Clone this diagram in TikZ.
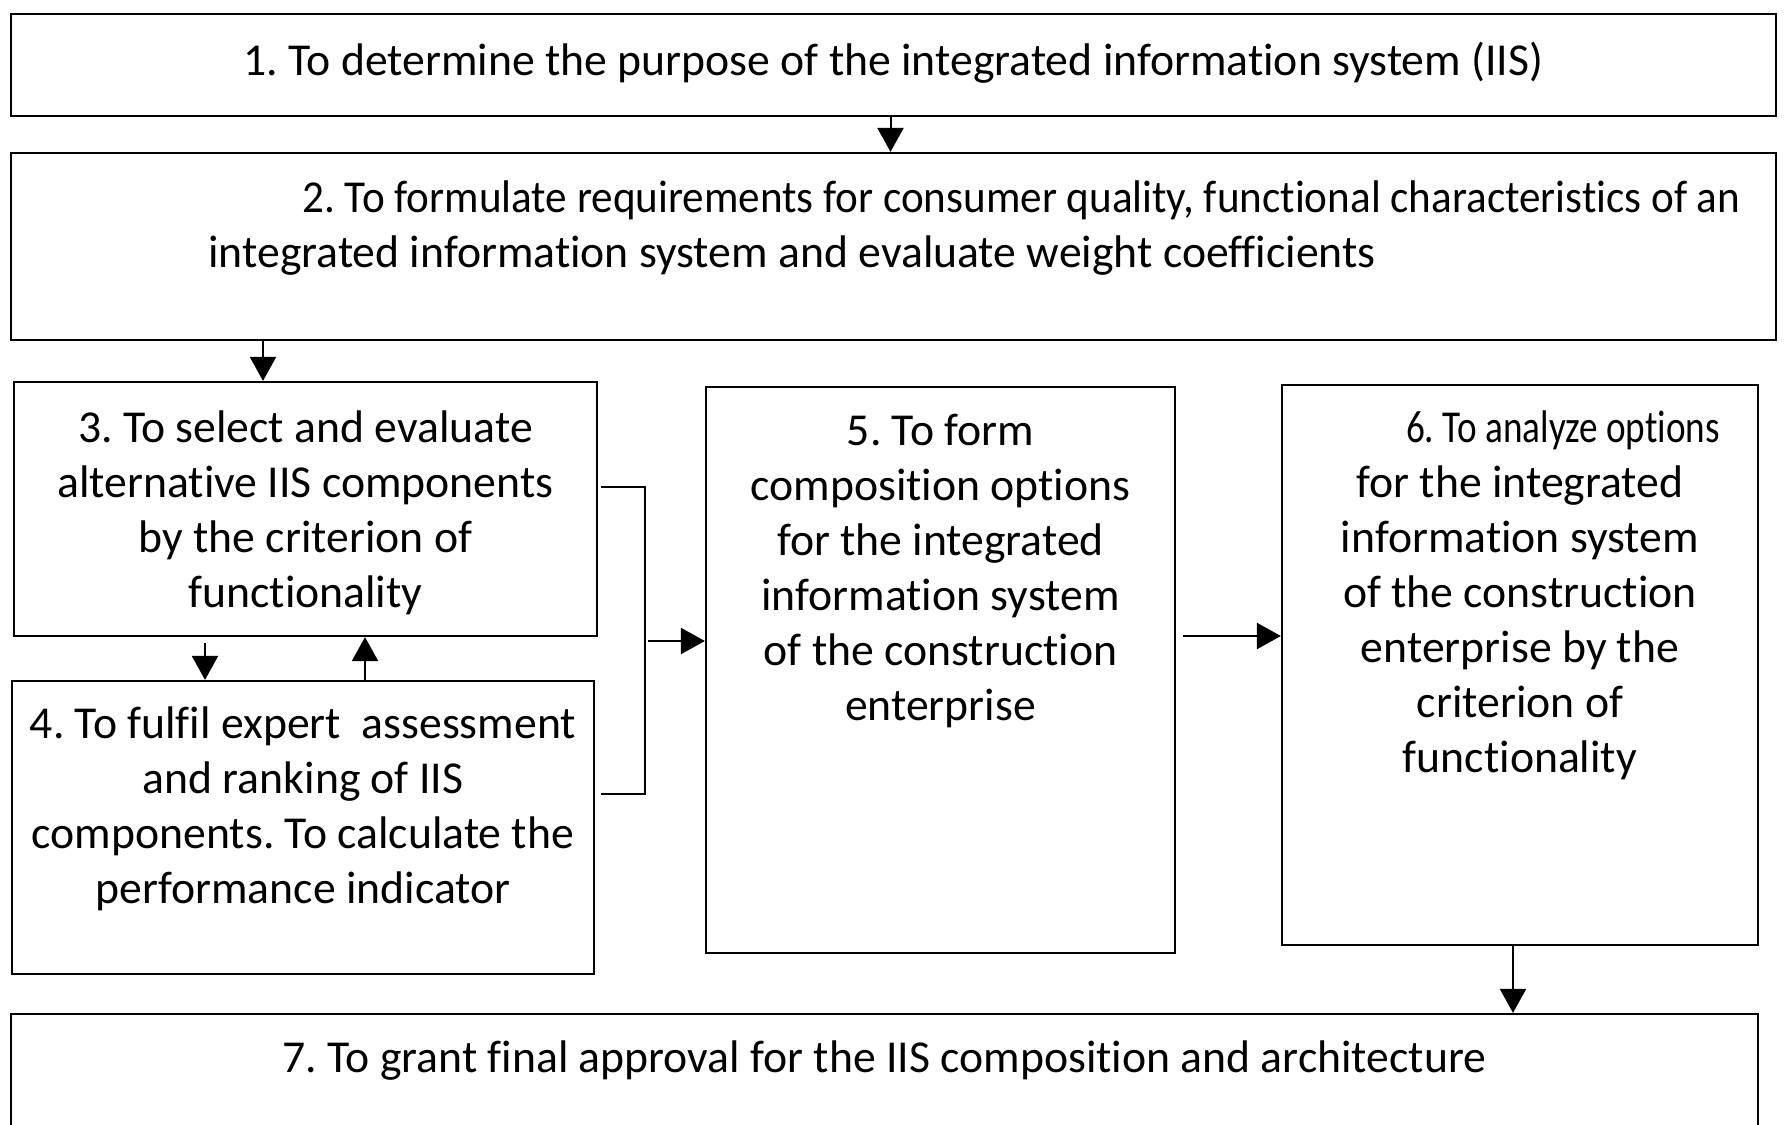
\documentclass[tikz,border=0pt]{standalone}
\usepackage{fontspec}
\setmainfont{Carlito}[Ligatures=NoCommon]
\usepackage{graphicx}
\usetikzlibrary{arrows.meta}
\frenchspacing
\tikzset{
  box/.style={draw, line width=1.1pt, inner sep=0pt, rectangle},
  txt/.style={inner sep=0pt, align=center, anchor=north, font=\fontsize{22.85}{27.5}\selectfont\frenchspacing},
  conn/.style={line width=1pt},
  arr/.style={line width=1pt, -{Triangle[length=12pt,width=13pt]}}
}
\begin{document}
\begin{tikzpicture}[x=0.5pt,y=-0.5pt]
\useasboundingbox (0,0) rectangle (1784,1125);
\clip (0,0) rectangle (1784,1125);
\fill[white] (0,0) rectangle (1784,1125);
% boxes
\node[box, minimum width=882.5pt, minimum height=51pt] (b1) at (893.5,65) {};
\node[box, minimum width=882.5pt, minimum height=93.5pt] (b2) at (893.5,246.5) {};
\node[box, minimum width=291.5pt, minimum height=127pt] (b3) at (305.5,509) {};
\node[box, minimum width=291pt, minimum height=146.5pt] (b4) at (303,827.5) {};
\node[box, minimum width=234.5pt, minimum height=283pt] (b5) at (940.5,670) {};
\node[box, minimum width=238pt, minimum height=280pt] (b6) at (1520,665) {};
\node[box, minimum width=873.5pt, minimum height=66pt] (b7) at (884.5,1080) {};
% texts
\node[txt] (t1) at (893.5,36.5) {\strut 1. To determine the purpose of the integrated information system (IIS)};
\node[txt, anchor=north west, align=left] (t2) at (208,173.5) {\strut\hspace*{47pt}\resizebox{719pt}{\height}{2. To formulate requirements for consumer quality, functional characteristics of an}\\integrated information system and evaluate weight coefficients};
\node[txt] (t3) at (305.5,403.5) {\strut 3. To select and evaluate\\alternative IIS components\\by the criterion of\\functionality};
\node[txt] (t4) at (303,699.5) {\strut 4. To fulfil expert\ \ assessment\\and ranking of IIS\\components. To calculate the\\performance indicator};
\node[txt] (t5) at (940.5,406.5) {\strut 5. To form\\composition options\\for the integrated\\information system\\of the construction\\enterprise};
\node[txt] (t6) at (1520,403.5) {\strut\hspace*{43pt}\resizebox{157pt}{\height}{6. To analyze options}\\for the integrated\\information system\\of the construction\\enterprise by the\\criterion of\\functionality};
\node[txt] (t7) at (884.5,1033.5) {\strut 7. To grant final approval for the IIS composition and architecture};
% connectors
\draw[arr] ([xshift=-1.5pt]b1.south) -- ([xshift=-1.5pt]b1.south |- b2.north);
\draw[arr] ([xshift=-21.25pt]b3.north |- b2.south) -- ([xshift=-21.25pt]b3.north);
\draw[arr, shorten <=3pt] ([xshift=-49pt]b4.north |- b3.south) -- ([xshift=-49pt]b4.north);
\draw[arr] ([xshift=31pt]b4.north) -- ([xshift=31pt]b4.north |- b3.south);
\coordinate (j) at (645,641);
\draw[conn] ([shift={(1.5pt,11pt)}]b3.east) -| (j) |- ([shift={(3pt,17pt)}]b4.east);
\draw[arr, shorten <=1.5pt] (j) -- (j -| b5.west);
\draw[arr, shorten <=3.5pt] ([yshift=17pt]b5.east) -- ([yshift=17pt]b5.east -| b6.west);
\draw[arr] ([xshift=-3.5pt]b6.south) -- ([xshift=-3.5pt]b6.south |- b7.north);
\end{tikzpicture}
\end{document}
